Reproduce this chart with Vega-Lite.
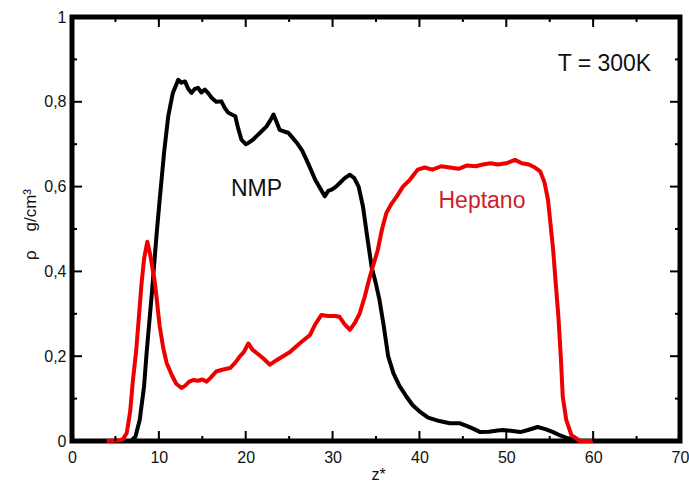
{
  "$schema": "https://vega.github.io/schema/vega-lite/v6.json",
  "width": 608,
  "height": 424,
  "autosize": {"type": "none"},
  "padding": {"left": 72, "top": 17, "right": 9, "bottom": 40},
  "background": "#ffffff",
  "config": {
    "font": "Liberation Sans",
    "view": {"stroke": "#000000", "strokeWidth": 5},
    "axis": {
      "grid": false,
      "domain": false,
      "ticks": false,
      "labelFont": "Liberation Sans",
      "labelFontSize": 16,
      "labelColor": "#111111",
      "labelFlush": false,
      "labelOverlap": false,
      "titleFont": "Liberation Sans",
      "titleFontWeight": "normal",
      "titleColor": "#111111"
    },
    "tick": {"color": "#000000", "thickness": 2, "opacity": 1}
  },
  "datasets": {
    "curves": [
      {"z": 4.0, "rho": 0.0, "species": "NMP"},
      {"z": 6.8, "rho": 0.0, "species": "NMP"},
      {"z": 7.3, "rho": 0.01, "species": "NMP"},
      {"z": 7.8, "rho": 0.05, "species": "NMP"},
      {"z": 8.3, "rho": 0.13, "species": "NMP"},
      {"z": 8.6, "rho": 0.21, "species": "NMP"},
      {"z": 9.2, "rho": 0.35, "species": "NMP"},
      {"z": 9.75, "rho": 0.49, "species": "NMP"},
      {"z": 10.1, "rho": 0.57, "species": "NMP"},
      {"z": 10.6, "rho": 0.68, "species": "NMP"},
      {"z": 11.08, "rho": 0.766, "species": "NMP"},
      {"z": 11.6, "rho": 0.82, "species": "NMP"},
      {"z": 12.23, "rho": 0.852, "species": "NMP"},
      {"z": 12.6, "rho": 0.845, "species": "NMP"},
      {"z": 13.0, "rho": 0.848, "species": "NMP"},
      {"z": 13.4, "rho": 0.83, "species": "NMP"},
      {"z": 13.77, "rho": 0.821, "species": "NMP"},
      {"z": 14.1, "rho": 0.83, "species": "NMP"},
      {"z": 14.5, "rho": 0.833, "species": "NMP"},
      {"z": 14.9, "rho": 0.822, "species": "NMP"},
      {"z": 15.3, "rho": 0.829, "species": "NMP"},
      {"z": 15.7, "rho": 0.82, "species": "NMP"},
      {"z": 16.1, "rho": 0.809, "species": "NMP"},
      {"z": 16.6, "rho": 0.8, "species": "NMP"},
      {"z": 17.2, "rho": 0.801, "species": "NMP"},
      {"z": 17.6, "rho": 0.785, "species": "NMP"},
      {"z": 18.0, "rho": 0.774, "species": "NMP"},
      {"z": 18.4, "rho": 0.77, "species": "NMP"},
      {"z": 18.8, "rho": 0.766, "species": "NMP"},
      {"z": 19.1, "rho": 0.74, "species": "NMP"},
      {"z": 19.5, "rho": 0.711, "species": "NMP"},
      {"z": 20.0, "rho": 0.7, "species": "NMP"},
      {"z": 20.3, "rho": 0.703, "species": "NMP"},
      {"z": 20.8, "rho": 0.71, "species": "NMP"},
      {"z": 21.25, "rho": 0.719, "species": "NMP"},
      {"z": 21.8, "rho": 0.73, "species": "NMP"},
      {"z": 22.4, "rho": 0.742, "species": "NMP"},
      {"z": 22.8, "rho": 0.755, "species": "NMP"},
      {"z": 23.2, "rho": 0.77, "species": "NMP"},
      {"z": 23.6, "rho": 0.75, "species": "NMP"},
      {"z": 23.9, "rho": 0.734, "species": "NMP"},
      {"z": 24.4, "rho": 0.73, "species": "NMP"},
      {"z": 24.9, "rho": 0.727, "species": "NMP"},
      {"z": 25.4, "rho": 0.715, "species": "NMP"},
      {"z": 25.9, "rho": 0.703, "species": "NMP"},
      {"z": 26.5, "rho": 0.685, "species": "NMP"},
      {"z": 27.0, "rho": 0.663, "species": "NMP"},
      {"z": 27.5, "rho": 0.64, "species": "NMP"},
      {"z": 28.0, "rho": 0.616, "species": "NMP"},
      {"z": 28.6, "rho": 0.595, "species": "NMP"},
      {"z": 29.1, "rho": 0.577, "species": "NMP"},
      {"z": 29.5, "rho": 0.59, "species": "NMP"},
      {"z": 29.9, "rho": 0.593, "species": "NMP"},
      {"z": 30.4, "rho": 0.6, "species": "NMP"},
      {"z": 30.8, "rho": 0.608, "species": "NMP"},
      {"z": 31.4, "rho": 0.62, "species": "NMP"},
      {"z": 32.0, "rho": 0.628, "species": "NMP"},
      {"z": 32.5, "rho": 0.62, "species": "NMP"},
      {"z": 33.0, "rho": 0.6, "species": "NMP"},
      {"z": 33.5, "rho": 0.553, "species": "NMP"},
      {"z": 34.0, "rho": 0.48, "species": "NMP"},
      {"z": 34.5, "rho": 0.41, "species": "NMP"},
      {"z": 35.0, "rho": 0.37, "species": "NMP"},
      {"z": 35.4, "rho": 0.333, "species": "NMP"},
      {"z": 35.9, "rho": 0.27, "species": "NMP"},
      {"z": 36.4, "rho": 0.2, "species": "NMP"},
      {"z": 37.0, "rho": 0.16, "species": "NMP"},
      {"z": 37.7, "rho": 0.13, "species": "NMP"},
      {"z": 38.5, "rho": 0.105, "species": "NMP"},
      {"z": 39.2, "rho": 0.085, "species": "NMP"},
      {"z": 40.0, "rho": 0.07, "species": "NMP"},
      {"z": 41.0, "rho": 0.055, "species": "NMP"},
      {"z": 42.3, "rho": 0.047, "species": "NMP"},
      {"z": 43.5, "rho": 0.042, "species": "NMP"},
      {"z": 44.6, "rho": 0.042, "species": "NMP"},
      {"z": 45.5, "rho": 0.035, "species": "NMP"},
      {"z": 46.3, "rho": 0.028, "species": "NMP"},
      {"z": 47.0, "rho": 0.021, "species": "NMP"},
      {"z": 48.0, "rho": 0.022, "species": "NMP"},
      {"z": 49.0, "rho": 0.025, "species": "NMP"},
      {"z": 49.6, "rho": 0.026, "species": "NMP"},
      {"z": 50.5, "rho": 0.024, "species": "NMP"},
      {"z": 51.6, "rho": 0.021, "species": "NMP"},
      {"z": 52.5, "rho": 0.026, "species": "NMP"},
      {"z": 53.6, "rho": 0.033, "species": "NMP"},
      {"z": 54.5, "rho": 0.028, "species": "NMP"},
      {"z": 55.4, "rho": 0.021, "species": "NMP"},
      {"z": 56.2, "rho": 0.013, "species": "NMP"},
      {"z": 57.0, "rho": 0.007, "species": "NMP"},
      {"z": 58.1, "rho": 0.0, "species": "NMP"},
      {"z": 60.0, "rho": 0.0, "species": "NMP"},
      {"z": 4.0, "rho": 0.0, "species": "Heptano"},
      {"z": 5.5, "rho": 0.002, "species": "Heptano"},
      {"z": 5.9, "rho": 0.005, "species": "Heptano"},
      {"z": 6.3, "rho": 0.019, "species": "Heptano"},
      {"z": 6.7, "rho": 0.07, "species": "Heptano"},
      {"z": 7.0, "rho": 0.14, "species": "Heptano"},
      {"z": 7.4, "rho": 0.215, "species": "Heptano"},
      {"z": 8.0, "rho": 0.37, "species": "Heptano"},
      {"z": 8.3, "rho": 0.43, "species": "Heptano"},
      {"z": 8.67, "rho": 0.47, "species": "Heptano"},
      {"z": 9.0, "rho": 0.44, "species": "Heptano"},
      {"z": 9.55, "rho": 0.373, "species": "Heptano"},
      {"z": 10.1, "rho": 0.27, "species": "Heptano"},
      {"z": 10.5, "rho": 0.22, "species": "Heptano"},
      {"z": 10.9, "rho": 0.184, "species": "Heptano"},
      {"z": 11.5, "rho": 0.155, "species": "Heptano"},
      {"z": 12.0, "rho": 0.135, "species": "Heptano"},
      {"z": 12.6, "rho": 0.125, "species": "Heptano"},
      {"z": 13.0, "rho": 0.13, "species": "Heptano"},
      {"z": 13.5, "rho": 0.14, "species": "Heptano"},
      {"z": 14.0, "rho": 0.144, "species": "Heptano"},
      {"z": 14.5, "rho": 0.142, "species": "Heptano"},
      {"z": 15.0, "rho": 0.145, "species": "Heptano"},
      {"z": 15.5, "rho": 0.14, "species": "Heptano"},
      {"z": 16.0, "rho": 0.15, "species": "Heptano"},
      {"z": 16.6, "rho": 0.164, "species": "Heptano"},
      {"z": 17.3, "rho": 0.168, "species": "Heptano"},
      {"z": 18.2, "rho": 0.172, "species": "Heptano"},
      {"z": 18.8, "rho": 0.185, "species": "Heptano"},
      {"z": 19.3, "rho": 0.199, "species": "Heptano"},
      {"z": 19.8, "rho": 0.21, "species": "Heptano"},
      {"z": 20.3, "rho": 0.23, "species": "Heptano"},
      {"z": 20.8, "rho": 0.215, "species": "Heptano"},
      {"z": 21.3, "rho": 0.207, "species": "Heptano"},
      {"z": 22.0, "rho": 0.195, "species": "Heptano"},
      {"z": 22.8, "rho": 0.18, "species": "Heptano"},
      {"z": 23.5, "rho": 0.19, "species": "Heptano"},
      {"z": 24.3, "rho": 0.2, "species": "Heptano"},
      {"z": 25.1, "rho": 0.21, "species": "Heptano"},
      {"z": 26.2, "rho": 0.23, "species": "Heptano"},
      {"z": 27.4, "rho": 0.25, "species": "Heptano"},
      {"z": 28.0, "rho": 0.275, "species": "Heptano"},
      {"z": 28.7, "rho": 0.297, "species": "Heptano"},
      {"z": 29.5, "rho": 0.295, "species": "Heptano"},
      {"z": 30.3, "rho": 0.295, "species": "Heptano"},
      {"z": 30.8, "rho": 0.293, "species": "Heptano"},
      {"z": 31.4, "rho": 0.275, "species": "Heptano"},
      {"z": 32.0, "rho": 0.262, "species": "Heptano"},
      {"z": 32.6, "rho": 0.28, "species": "Heptano"},
      {"z": 33.1, "rho": 0.3, "species": "Heptano"},
      {"z": 33.7, "rho": 0.34, "species": "Heptano"},
      {"z": 34.3, "rho": 0.388, "species": "Heptano"},
      {"z": 35.2, "rho": 0.45, "species": "Heptano"},
      {"z": 35.7, "rho": 0.5, "species": "Heptano"},
      {"z": 36.2, "rho": 0.538, "species": "Heptano"},
      {"z": 36.8, "rho": 0.56, "species": "Heptano"},
      {"z": 37.4, "rho": 0.577, "species": "Heptano"},
      {"z": 38.1, "rho": 0.6, "species": "Heptano"},
      {"z": 38.9, "rho": 0.616, "species": "Heptano"},
      {"z": 39.8, "rho": 0.64, "species": "Heptano"},
      {"z": 40.6, "rho": 0.645, "species": "Heptano"},
      {"z": 41.5, "rho": 0.64, "species": "Heptano"},
      {"z": 42.5, "rho": 0.648, "species": "Heptano"},
      {"z": 43.5, "rho": 0.645, "species": "Heptano"},
      {"z": 44.5, "rho": 0.642, "species": "Heptano"},
      {"z": 45.5, "rho": 0.65, "species": "Heptano"},
      {"z": 46.5, "rho": 0.648, "species": "Heptano"},
      {"z": 47.3, "rho": 0.652, "species": "Heptano"},
      {"z": 48.2, "rho": 0.655, "species": "Heptano"},
      {"z": 49.0, "rho": 0.652, "species": "Heptano"},
      {"z": 50.0, "rho": 0.655, "species": "Heptano"},
      {"z": 51.0, "rho": 0.663, "species": "Heptano"},
      {"z": 51.8, "rho": 0.655, "species": "Heptano"},
      {"z": 52.6, "rho": 0.652, "species": "Heptano"},
      {"z": 53.3, "rho": 0.645, "species": "Heptano"},
      {"z": 53.9, "rho": 0.636, "species": "Heptano"},
      {"z": 54.4, "rho": 0.61, "species": "Heptano"},
      {"z": 54.8, "rho": 0.569, "species": "Heptano"},
      {"z": 55.1, "rho": 0.51, "species": "Heptano"},
      {"z": 55.4, "rho": 0.45, "species": "Heptano"},
      {"z": 55.7, "rho": 0.37, "species": "Heptano"},
      {"z": 56.0, "rho": 0.293, "species": "Heptano"},
      {"z": 56.3, "rho": 0.19, "species": "Heptano"},
      {"z": 56.5, "rho": 0.105, "species": "Heptano"},
      {"z": 56.9, "rho": 0.05, "species": "Heptano"},
      {"z": 57.5, "rho": 0.014, "species": "Heptano"},
      {"z": 58.5, "rho": 0.0, "species": "Heptano"},
      {"z": 60.0, "rho": 0.0, "species": "Heptano"}
    ],
    "labels": [
      {"z": 21.25, "rho": 0.577, "label": "NMP"},
      {"z": 47.2, "rho": 0.55, "label": "Heptano"},
      {"z": 61.3, "rho": 0.872, "label": "T = 300K"}
    ],
    "xticks": [
      {"z": 0, "kind": "major"}, {"z": 5, "kind": "minor"},
      {"z": 10, "kind": "major"}, {"z": 15, "kind": "minor"},
      {"z": 20, "kind": "major"}, {"z": 25, "kind": "minor"},
      {"z": 30, "kind": "major"}, {"z": 35, "kind": "minor"},
      {"z": 40, "kind": "major"}, {"z": 45, "kind": "minor"},
      {"z": 50, "kind": "major"}, {"z": 55, "kind": "minor"},
      {"z": 60, "kind": "major"}, {"z": 65, "kind": "minor"},
      {"z": 70, "kind": "major"}
    ],
    "yticks": [
      {"rho": 0.0, "kind": "major"}, {"rho": 0.1, "kind": "minor"},
      {"rho": 0.2, "kind": "major"}, {"rho": 0.3, "kind": "minor"},
      {"rho": 0.4, "kind": "major"}, {"rho": 0.5, "kind": "minor"},
      {"rho": 0.6, "kind": "major"}, {"rho": 0.7, "kind": "minor"},
      {"rho": 0.8, "kind": "major"}, {"rho": 0.9, "kind": "minor"},
      {"rho": 1.0, "kind": "major"}
    ]
  },
  "layer": [
    {
      "data": {"name": "curves"},
      "transform": [{"filter": "datum.species === 'NMP'"}],
      "mark": {"type": "line", "strokeWidth": 4, "strokeJoin": "round", "color": "#000000"},
      "encoding": {
        "x": {
          "field": "z",
          "type": "quantitative",
          "scale": {"domain": [0, 70], "nice": false, "zero": false},
          "axis": {
            "orient": "bottom",
            "values": [0, 10, 20, 30, 40, 50, 60, 70],
            "labelPadding": 8,
            "title": "z*",
            "titleFontSize": 16,
            "titleBaseline": "alphabetic",
            "titleY": 38,
            "titleX": 306
          }
        },
        "y": {
          "field": "rho",
          "type": "quantitative",
          "scale": {"domain": [0, 1], "nice": false, "zero": false},
          "axis": {
            "orient": "left",
            "values": [0, 0.2, 0.4, 0.6, 0.8, 1.0],
            "labelPadding": 6,
            "labelExpr": "replace(format(datum.value, '~g'), '.', ',')",
            "title": "ρ\u00a0\u00a0\u00a0\u00a0g/cm³",
            "titleFontSize": 17,
            "titleAngle": -90,
            "titleBaseline": "alphabetic",
            "titleAlign": "center",
            "titleX": -37,
            "titleY": 207
          }
        }
      }
    },
    {
      "data": {"name": "curves"},
      "transform": [{"filter": "datum.species === 'Heptano'"}],
      "mark": {"type": "line", "strokeWidth": 4, "strokeJoin": "round", "color": "#ee0000"},
      "encoding": {
        "x": {"field": "z", "type": "quantitative"},
        "y": {"field": "rho", "type": "quantitative"}
      }
    },
    {
      "data": {"name": "labels"},
      "transform": [{"filter": "datum.label !== 'Heptano'"}],
      "mark": {"type": "text", "font": "Liberation Sans", "fontSize": 23, "align": "center", "baseline": "alphabetic", "color": "#111111"},
      "encoding": {
        "x": {"field": "z", "type": "quantitative"},
        "y": {"field": "rho", "type": "quantitative"},
        "text": {"field": "label", "type": "nominal"}
      }
    },
    {
      "data": {"name": "labels"},
      "transform": [{"filter": "datum.label === 'Heptano'"}],
      "mark": {"type": "text", "font": "Liberation Sans", "fontSize": 23, "align": "center", "baseline": "alphabetic", "color": "#cc1f2a"},
      "encoding": {
        "x": {"field": "z", "type": "quantitative"},
        "y": {"field": "rho", "type": "quantitative"},
        "text": {"field": "label", "type": "nominal"}
      }
    },
    {
      "data": {"name": "xticks"},
      "transform": [{"filter": "datum.kind === 'major'"}],
      "mark": {"type": "tick", "orient": "vertical", "size": 10, "yOffset": -5},
      "encoding": {"x": {"field": "z", "type": "quantitative"}, "y": {"datum": 0, "type": "quantitative"}}
    },
    {
      "data": {"name": "xticks"},
      "transform": [{"filter": "datum.kind === 'major'"}],
      "mark": {"type": "tick", "orient": "vertical", "size": 10, "yOffset": 5},
      "encoding": {"x": {"field": "z", "type": "quantitative"}, "y": {"datum": 1, "type": "quantitative"}}
    },
    {
      "data": {"name": "xticks"},
      "transform": [{"filter": "datum.kind === 'minor'"}],
      "mark": {"type": "tick", "orient": "vertical", "size": 5, "yOffset": -2.5},
      "encoding": {"x": {"field": "z", "type": "quantitative"}, "y": {"datum": 0, "type": "quantitative"}}
    },
    {
      "data": {"name": "xticks"},
      "transform": [{"filter": "datum.kind === 'minor'"}],
      "mark": {"type": "tick", "orient": "vertical", "size": 5, "yOffset": 2.5},
      "encoding": {"x": {"field": "z", "type": "quantitative"}, "y": {"datum": 1, "type": "quantitative"}}
    },
    {
      "data": {"name": "yticks"},
      "transform": [{"filter": "datum.kind === 'major'"}],
      "mark": {"type": "tick", "orient": "horizontal", "size": 10, "xOffset": 5},
      "encoding": {"y": {"field": "rho", "type": "quantitative"}, "x": {"datum": 0, "type": "quantitative"}}
    },
    {
      "data": {"name": "yticks"},
      "transform": [{"filter": "datum.kind === 'major'"}],
      "mark": {"type": "tick", "orient": "horizontal", "size": 10, "xOffset": -5},
      "encoding": {"y": {"field": "rho", "type": "quantitative"}, "x": {"datum": 70, "type": "quantitative"}}
    },
    {
      "data": {"name": "yticks"},
      "transform": [{"filter": "datum.kind === 'minor'"}],
      "mark": {"type": "tick", "orient": "horizontal", "size": 5, "xOffset": 2.5},
      "encoding": {"y": {"field": "rho", "type": "quantitative"}, "x": {"datum": 0, "type": "quantitative"}}
    },
    {
      "data": {"name": "yticks"},
      "transform": [{"filter": "datum.kind === 'minor'"}],
      "mark": {"type": "tick", "orient": "horizontal", "size": 5, "xOffset": -2.5},
      "encoding": {"y": {"field": "rho", "type": "quantitative"}, "x": {"datum": 70, "type": "quantitative"}}
    }
  ]
}
